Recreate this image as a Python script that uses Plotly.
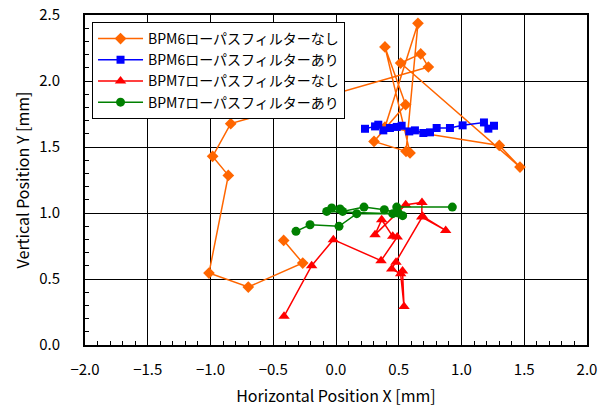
import plotly.graph_objects as go

# BPM6 low-pass filter OFF (orange)
bpm6_off_x = [-0.417, -0.265, -0.699, -1.012, -0.858, -0.983, -0.839, 0.736, 0.675, 0.515,
              1.466, 1.301, 0.390, 0.653, 0.558, 0.303, 0.555, 0.390, 0.590]
bpm6_off_y = [0.792, 0.621, 0.439, 0.545, 1.285, 1.429, 1.677, 2.106, 2.205, 2.136,
              1.348, 1.512, 1.650, 2.437, 1.467, 1.542, 1.820, 2.258, 1.455]

# BPM6 low-pass filter ON (blue)
bpm6_on_x = [0.231, 0.311, 0.337, 0.377, 0.430, 0.484, 0.523, 0.584, 0.629, 0.696,
             0.749, 0.802, 0.908, 1.009, 1.179, 1.214, 1.259]
bpm6_on_y = [1.638, 1.656, 1.669, 1.626, 1.644, 1.652, 1.661, 1.618, 1.626, 1.606,
             1.611, 1.644, 1.644, 1.664, 1.686, 1.639, 1.661]

# BPM7 low-pass filter OFF (red)
bpm7_off_x = [-0.414, -0.194, -0.021, 0.359, 0.488, 0.452, 0.364, 0.311, 0.555, 0.685,
              0.683, 0.874, 0.690, 0.478, 0.444, 0.515, 0.542, 0.530]
bpm7_off_y = [0.217, 0.601, 0.798, 0.639, 0.818, 0.823, 0.949, 0.836, 1.063, 1.080,
              0.970, 0.868, 0.975, 0.626, 0.576, 0.540, 0.292, 0.560]

# BPM7 low-pass filter ON (green)
bpm7_on_x = [-0.319, -0.207, 0.024, 0.165, 0.452, -0.074, -0.034, 0.032, 0.053, 0.223,
             0.385, 0.497, 0.531, 0.484, 0.927]
bpm7_on_y = [0.861, 0.911, 0.899, 0.995, 0.995, 1.012, 1.038, 1.030, 1.012, 1.045,
             1.025, 1.000, 0.980, 1.045, 1.045]

names = ["BPM6ローパスフィルターなし", "BPM6ローパスフィルターあり",
         "BPM7ローパスフィルターなし", "BPM7ローパスフィルターあり"]
colors = ["#FF6600", "#0000FF", "#FF0000", "#008000"]
symbols = ["diamond", "square", "triangle-up", "circle"]
sizes = [9, 8, 10, 9]
xs = [bpm6_off_x, bpm6_on_x, bpm7_off_x, bpm7_on_x]
ys = [bpm6_off_y, bpm6_on_y, bpm7_off_y, bpm7_on_y]

FONT = "Noto Sans CJK JP, sans-serif"

fig = go.Figure()
for i in range(4):
    fig.add_trace(go.Scatter(
        x=xs[i], y=ys[i], mode="lines+markers", name=names[i],
        legendgroup=f"g{i}",
        line=dict(color=colors[i], width=1.5),
        marker=dict(symbol=symbols[i], size=sizes[i], color=colors[i]),
    ))

axis_common = dict(
    showgrid=True, gridcolor="black", gridwidth=1,
    showline=True, linecolor="black", linewidth=2, mirror=True,
    zeroline=False, ticks="", automargin=False,
    tickfont=dict(family=FONT, size=15, color="black"),
    minor=dict(ticks="inside", ticklen=4, tickcolor="black", dtick=0.1, showgrid=False),
)

fig.update_layout(
    width=602, height=409,
    margin=dict(l=85, r=15, t=15, b=64, autoexpand=False),
    paper_bgcolor="white", plot_bgcolor="white",
    font=dict(family=FONT, size=14, color="black"),
    xaxis=dict(range=[-2, 2], dtick=0.5, tickformat=".1f",
               title=dict(text="Horizontal Position X [mm]", font=dict(family=FONT, size=16), standoff=13),
               ticklabelstandoff=10, **axis_common),
    yaxis=dict(range=[0, 2.5], dtick=0.5, tickformat=".1f",
               title=dict(text="Vertical Position Y [mm]", font=dict(family=FONT, size=16), standoff=6),
               ticklabelstandoff=20, **axis_common),
    legend=dict(x=0.014, y=0.979, xanchor="left", yanchor="top",
                bgcolor="white", bordercolor="black", borderwidth=1,
                font=dict(family=FONT, size=14, color="black"),
                tracegroupgap=0, itemwidth=45),
    showlegend=True,
)

fig.write_html("out.html")
